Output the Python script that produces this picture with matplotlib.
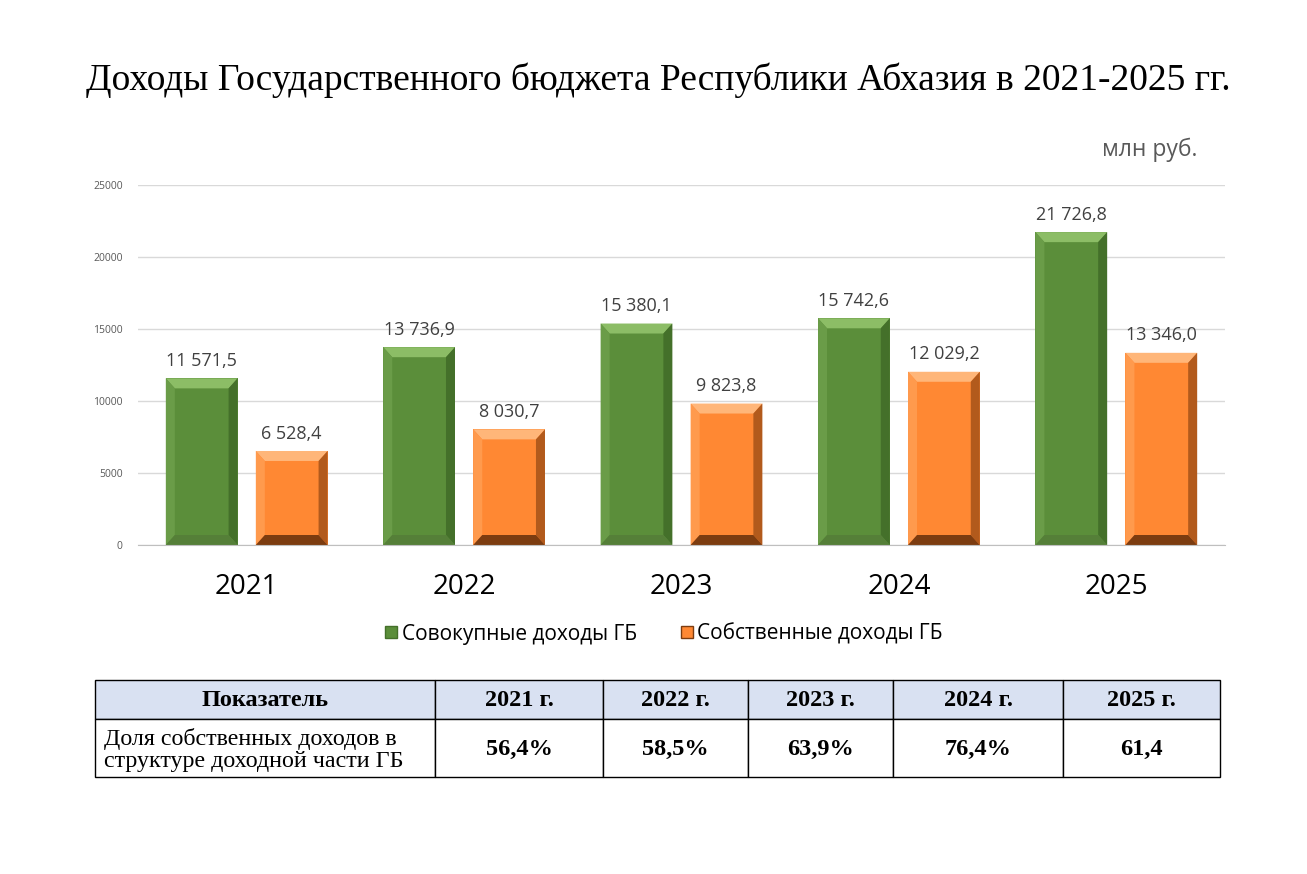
import matplotlib.pyplot as plt
from matplotlib.patches import Polygon, Rectangle
from matplotlib.lines import Line2D
import numpy as np

years = ['2021', '2022', '2023', '2024', '2025']
total_inc = [11571.5, 13736.9, 15380.1, 15742.6, 21726.8]
own_inc = [6528.4, 8030.7, 9823.8, 12029.2, 13346.0]
series_names = ['Совокупные доходы ГБ', 'Собственные доходы ГБ']

tbl_head = ['Показатель', '2021 г.', '2022 г.', '2023 г.', '2024 г.', '2025 г.']
tbl_row_name = 'Доля собственных доходов в\nструктуре доходной части ГБ'
tbl_vals = ['56,4%', '58,5%', '63,9%', '76,4%', '61,4']

sans = ['Open Sans', 'DejaVu Sans']
serif = ['Liberation Serif', 'DejaVu Serif']

# colours: face, top, left, right, bottom
green = ['#5B8E3A', '#8CBD66', '#6A9C48', '#44702A', '#557F38']
orange = ['#FF8833', '#FFB679', '#FF9A4D', '#B25A1C', '#7C3C10']

def fmt(v):
    s = '{:,.1f}'.format(v)
    return s.replace(',', ' ').replace('.', ',')

fig = plt.figure(figsize=(13.07, 8.74), dpi=100)
W, H = 1307, 874
ax = fig.add_axes([138/W, 1-545/H, 1087/W, 360/H])
ax.set_xlim(-0.5, 4.5)
ax.set_ylim(0, 25000)

bw = 0.33
off = 0.207
bx = 9/1087*5
by = 10/360*25000

def bevel_bar(x_c, h, cols):
    x0 = x_c - bw/2
    ax.bar(x_c, h, bw, color=cols[0], zorder=3)
    polys = [
        ([(x0, h), (x0+bw, h), (x0+bw-bx, h-by), (x0+bx, h-by)], cols[1]),
        ([(x0, 0), (x0, h), (x0+bx, h-by), (x0+bx, by)], cols[2]),
        ([(x0+bw, 0), (x0+bw, h), (x0+bw-bx, h-by), (x0+bw-bx, by)], cols[3]),
        ([(x0, 0), (x0+bw, 0), (x0+bw-bx, by), (x0+bx, by)], cols[4]),
    ]
    for p, c in polys:
        ax.add_patch(Polygon(p, closed=True, facecolor=c, edgecolor='none', zorder=4))
    ax.annotate(fmt(h), (x_c, h), xytext=(0, 6), textcoords='offset points',
                ha='center', va='bottom', fontsize=13, color='#404040', family=sans)

x = np.arange(len(years))
for i in range(len(years)):
    bevel_bar(x[i]-off, total_inc[i], green)
    bevel_bar(x[i]+off, own_inc[i], orange)

ax.set_yticks(np.arange(0, 25001, 5000))
ax.set_yticklabels([str(v) for v in range(0, 25001, 5000)], fontsize=7.5, color='#595959', family=sans)
ax.set_xticks(x)
ax.set_xticklabels(years, fontsize=20, color='black', family=sans)
ax.tick_params(length=0)
ax.tick_params(axis='x', pad=20)
ax.tick_params(axis='y', pad=11)
ax.grid(axis='y', color='#D9D9D9', linewidth=1, zorder=0)
for s in ['top', 'right', 'left']:
    ax.spines[s].set_visible(False)
ax.spines['bottom'].set_color('#BFBFBF')
ax.spines['bottom'].set_zorder(5)

handles = [Line2D([], [], marker='s', linestyle='none', markersize=9, markerfacecolor=green[0], markeredgecolor=green[3]),
           Line2D([], [], marker='s', linestyle='none', markersize=9, markerfacecolor=orange[0], markeredgecolor=orange[4])]
fig.legend(handles, series_names, loc='center', bbox_to_anchor=(663/W, 1-634/H), ncol=2,
           frameon=False, prop={'family': sans, 'size': 15}, handletextpad=0.1, columnspacing=2.0,
           handlelength=0.8)

fig.text(658/W, 1-80/H, 'Доходы Государственного бюджета Республики Абхазия в 2021-2025 гг.',
         ha='center', va='center', fontsize=27, family=serif)
fig.text(1197/W, 1-150/H, 'млн руб.', ha='right', va='center', fontsize=16.5, color='#595959', family=sans)

# table
tx = fig.add_axes([0, 0, 1, 1])
tx.set_xlim(0, W)
tx.set_ylim(H, 0)
tx.axis('off')
cols_x = [95, 435, 603, 748, 893, 1063, 1220]
rows_y = [680, 719, 777]
for j in range(len(tbl_head)):
    tx.add_patch(Rectangle((cols_x[j], rows_y[0]), cols_x[j+1]-cols_x[j], rows_y[1]-rows_y[0],
                           facecolor='#D9E1F2', edgecolor='black', linewidth=1))
    tx.add_patch(Rectangle((cols_x[j], rows_y[1]), cols_x[j+1]-cols_x[j], rows_y[2]-rows_y[1],
                           facecolor='white', edgecolor='black', linewidth=1))
    tx.text((cols_x[j]+cols_x[j+1])/2, (rows_y[0]+rows_y[1])/2 + 1, tbl_head[j],
            ha='center', va='center', fontsize=17.5, fontweight='bold', family=serif)
tx.text(cols_x[0]+9, (rows_y[1]+rows_y[2])/2 + 2, tbl_row_name, ha='left', va='center',
        fontsize=17.3, family=serif, linespacing=1.1)
for j, v in enumerate(tbl_vals):
    tx.text((cols_x[j+1]+cols_x[j+2])/2, (rows_y[1]+rows_y[2])/2 + 1, v,
            ha='center', va='center', fontsize=17.5, fontweight='bold', family=serif)

fig.savefig('out.png', dpi=100)
